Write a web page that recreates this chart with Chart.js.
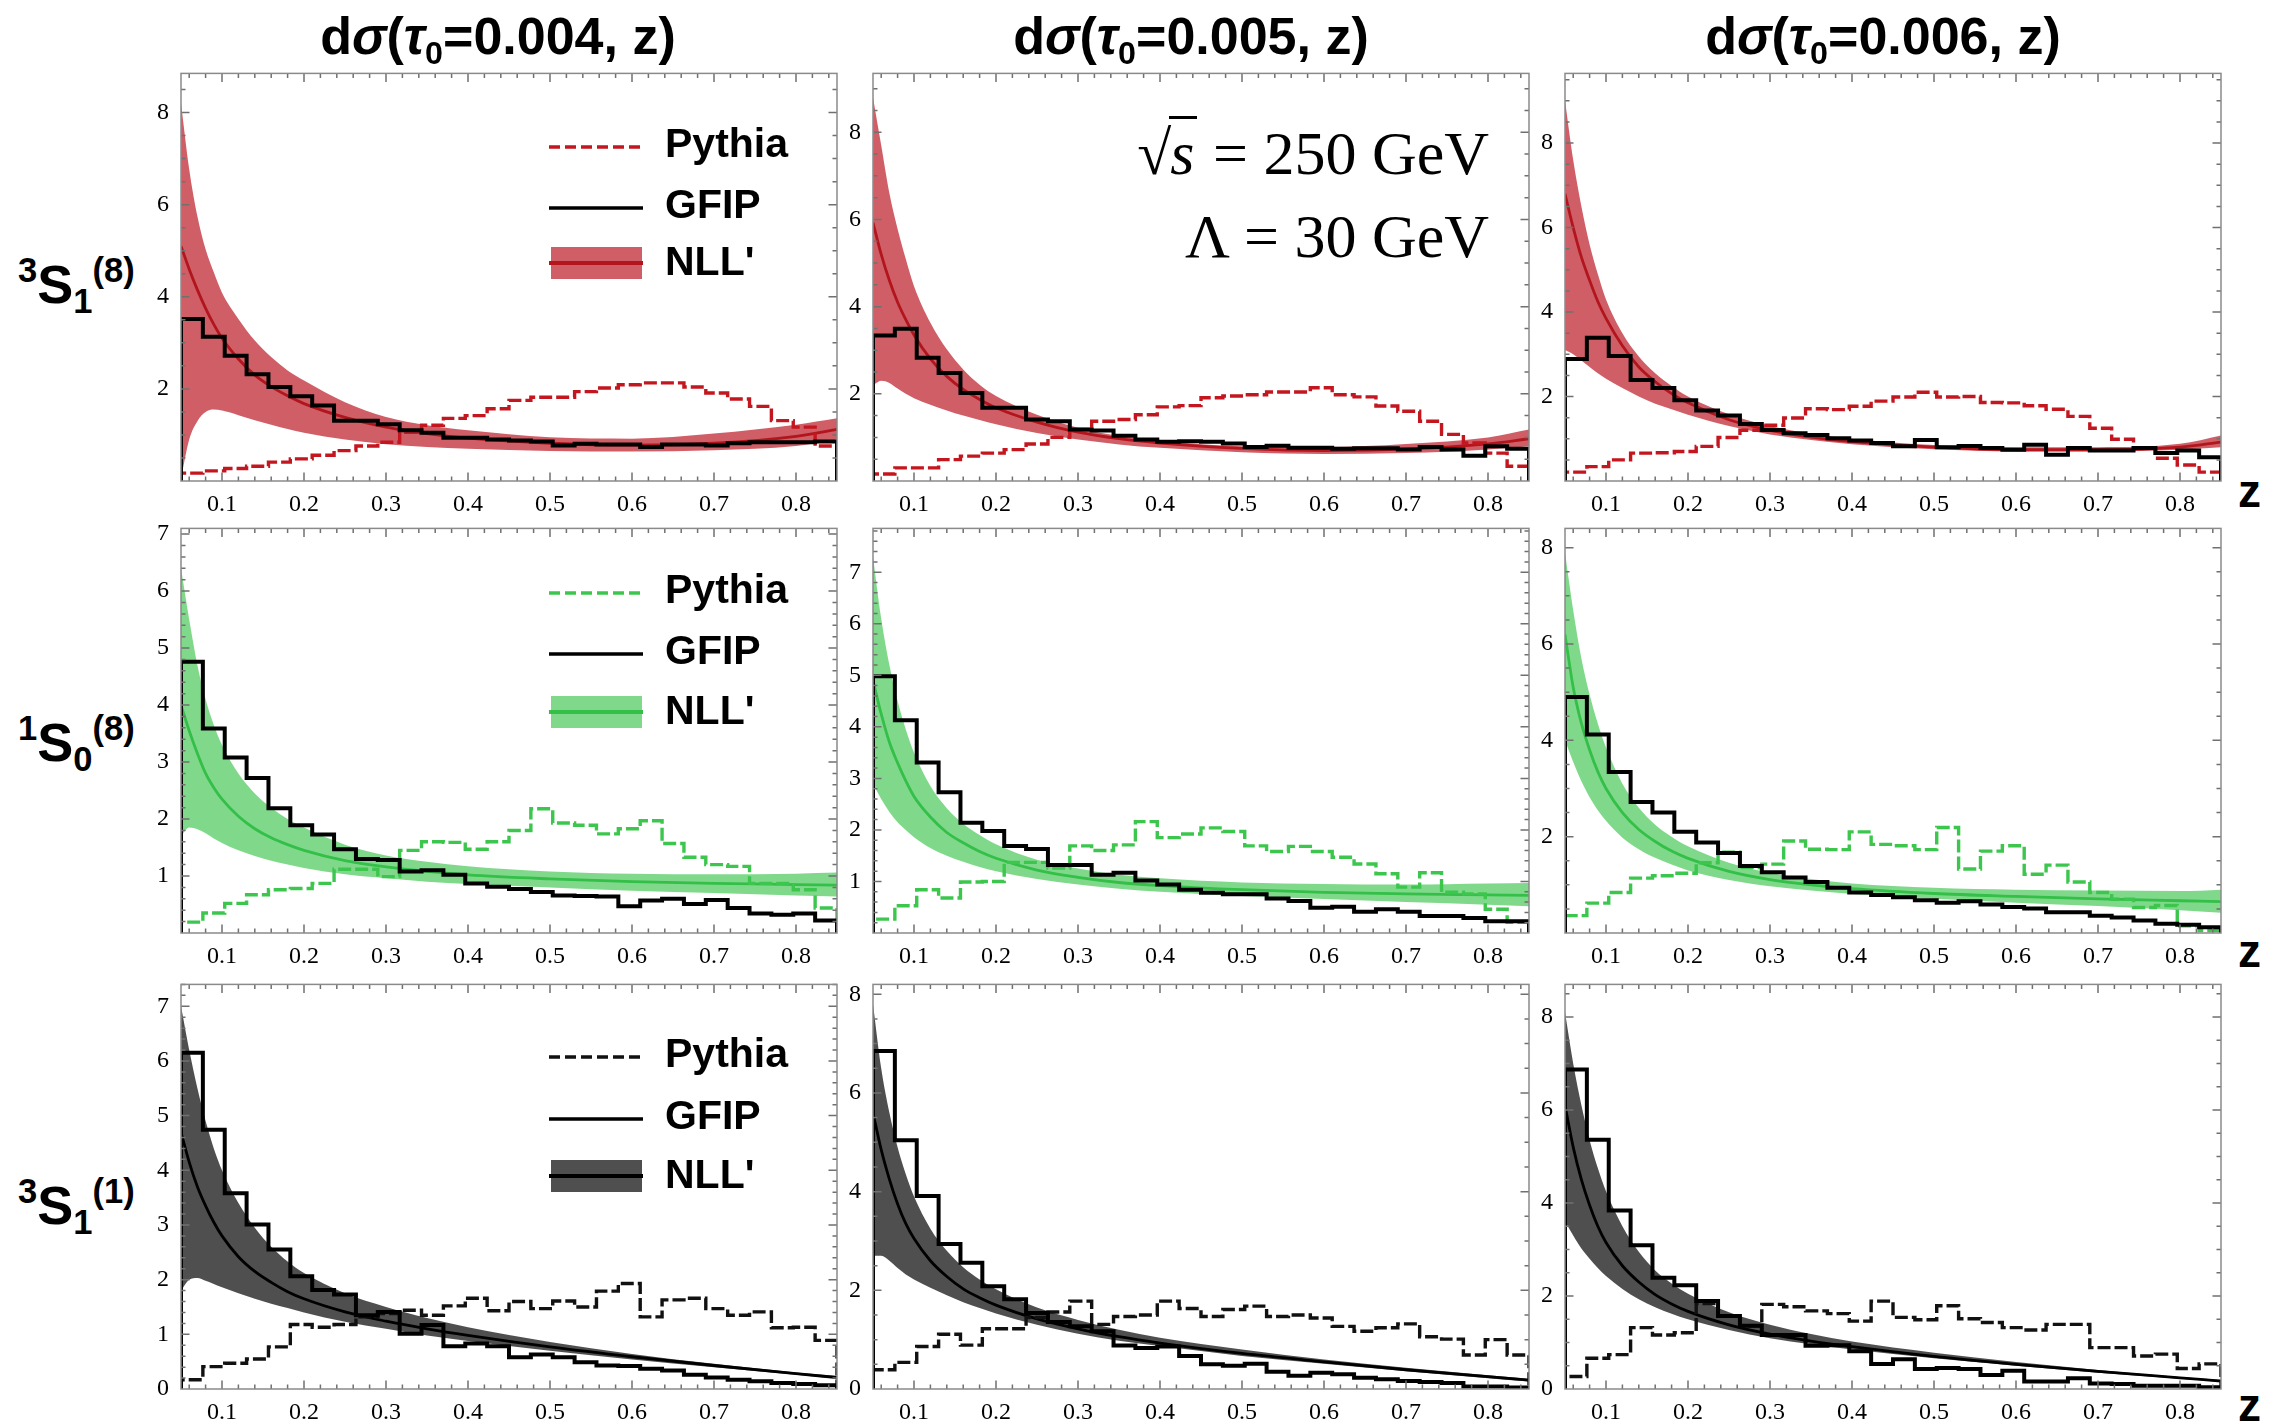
<!DOCTYPE html>
<html>
<head>
<meta charset="utf-8">
<script src="https://cdn.jsdelivr.net/npm/chart.js@4.4.1/dist/chart.umd.min.js"></script>
<style>
    body {
        margin: 0;
        width: 2285px;
        height: 1427px;
        background: #fff;
        position: relative;
        overflow: hidden;
        font-family: "Liberation Sans", Arial, sans-serif;
    }
    canvas { position: absolute; }
    .title {
        position: absolute;
        width: 700px;
        text-align: center;
        font-weight: bold;
        font-size: 52px;
        line-height: 60px;
        white-space: nowrap;
    }
    .title .sb { font-size: 0.62em; position: relative; top: 0.3em; }
    .state {
        position: absolute;
        left: 18px;
        font-weight: bold;
        font-size: 54px;
        line-height: 64px;
        white-space: nowrap;
    }
    .state sup, .state sub { font-size: 0.64em; vertical-align: baseline; position: relative; }
    .state sup { top: -0.62em; }
    .state sub { top: 0.3em; }
    .zlab {
        position: absolute;
        left: 2238px;
        font-weight: bold;
        font-size: 46px;
        line-height: 56px;
    }
    .legtext {
        position: absolute;
        left: 665px;
        font-weight: bold;
        font-size: 41px;
        line-height: 48px;
        white-space: nowrap;
    }
    .leg { position: absolute; left: 549px; }
    .anno {
        position: absolute;
        right: 796px;
        font-family: "Liberation Serif", "Times New Roman", serif;
        font-size: 62px;
        line-height: 70px;
        white-space: nowrap;
    }
    .anno .ov { border-top: 3px solid #000; padding: 0 3px 0 1px; margin-left: -2px; }
</style>
</head>
<body>
<script>
    // binning / sampling of z
    const zMin = 0.05, zMax = 0.85;
    const zCurve = [0.05, 0.06, 0.07, 0.08, 0.09, 0.10, 0.12, 0.14, 0.16, 0.18, 0.20, 0.25, 0.30, 0.35, 0.40, 0.50, 0.60, 0.70, 0.80, 0.85];

    const tauValues = ['0.004', '0.005', '0.006'];
    const stateLabels = [
        '<sup>3</sup>S<sub>1</sub><sup>(8)</sup>',
        '<sup>1</sup>S<sub>0</sub><sup>(8)</sup>',
        '<sup>3</sup>S<sub>1</sub><sup>(1)</sup>'
    ];
    const legendLabels = ['Pythia', 'GFIP', "NLL'"];

    const xTickVals = [0.1, 0.2, 0.3, 0.4, 0.5, 0.6, 0.7, 0.8];
    const yTickVals = [
        [[2, 4, 6, 8], [2, 4, 6, 8], [2, 4, 6, 8]],
        [[1, 2, 3, 4, 5, 6, 7], [1, 2, 3, 4, 5, 6, 7], [2, 4, 6, 8]],
        [[0, 1, 2, 3, 4, 5, 6, 7], [0, 2, 4, 6, 8], [0, 2, 4, 6, 8]]
    ];
    const yMaxVals = [[8.85, 9.35, 9.65], [7.1, 7.85, 8.4], [7.4, 8.2, 8.7]];

    // 3S1(8): one row per tau0
    const gfip3S1oct = [
        [3.52, 3.13, 2.72, 2.32, 2.04, 1.84, 1.64, 1.31, 1.31, 1.23, 1.10, 1.05, 0.94, 0.94, 0.90, 0.88, 0.86, 0.77, 0.81, 0.79, 0.79, 0.74, 0.79, 0.79, 0.77, 0.82, 0.84, 0.84, 0.84, 0.86],
        [3.34, 3.49, 2.83, 2.48, 2.02, 1.68, 1.68, 1.41, 1.37, 1.18, 1.16, 1.04, 0.95, 0.90, 0.91, 0.90, 0.86, 0.78, 0.81, 0.76, 0.76, 0.74, 0.75, 0.75, 0.72, 0.78, 0.72, 0.58, 0.80, 0.74],
        [2.89, 3.39, 2.96, 2.39, 2.20, 1.91, 1.67, 1.55, 1.35, 1.21, 1.13, 1.09, 1.01, 0.96, 0.90, 0.82, 0.97, 0.80, 0.83, 0.78, 0.74, 0.86, 0.62, 0.78, 0.72, 0.72, 0.78, 0.66, 0.72, 0.56]
    ];
    const pythia3S1oct = [
        [0.17, 0.22, 0.27, 0.32, 0.41, 0.48, 0.56, 0.66, 0.76, 0.84, 1.06, 1.21, 1.36, 1.42, 1.57, 1.75, 1.82, 1.82, 1.94, 2.02, 2.09, 2.13, 2.13, 2.04, 1.91, 1.78, 1.62, 1.31, 1.17, 0.76],
        [0.16, 0.30, 0.30, 0.49, 0.57, 0.64, 0.72, 0.85, 1.00, 1.18, 1.37, 1.41, 1.52, 1.70, 1.73, 1.91, 1.95, 1.98, 2.04, 2.04, 2.14, 1.98, 1.93, 1.72, 1.60, 1.37, 1.07, 0.87, 0.64, 0.34],
        [0.21, 0.34, 0.50, 0.66, 0.67, 0.70, 0.82, 1.03, 1.20, 1.32, 1.49, 1.71, 1.69, 1.77, 1.89, 1.99, 2.10, 1.99, 2.00, 1.86, 1.85, 1.78, 1.70, 1.53, 1.25, 0.99, 0.78, 0.54, 0.38, 0.21]
    ];
    const lo3S1oct = [
        [0.05, 0.9, 1.3, 1.5, 1.55, 1.53, 1.43, 1.32, 1.22, 1.13, 1.05, 0.9, 0.8, 0.74, 0.7, 0.65, 0.64, 0.67, 0.76, 0.9],
        [2.2, 2.3, 2.25, 2.12, 2.0, 1.9, 1.75, 1.62, 1.5, 1.4, 1.3, 1.1, 0.95, 0.84, 0.76, 0.66, 0.62, 0.64, 0.72, 0.8],
        [3.1, 3.0, 2.85, 2.7, 2.55, 2.42, 2.2, 2.0, 1.83, 1.7, 1.57, 1.3, 1.1, 0.97, 0.87, 0.75, 0.7, 0.7, 0.74, 0.8]
    ];
    const hi3S1oct = [
        [8.2, 6.77, 5.75, 5.03, 4.53, 4.09, 3.52, 3.05, 2.69, 2.40, 2.18, 1.71, 1.39, 1.21, 1.10, 0.95, 0.92, 1.03, 1.22, 1.36],
        [8.8, 7.7, 6.6, 5.78, 5.09, 4.47, 3.63, 3.02, 2.56, 2.21, 1.95, 1.52, 1.22, 1.03, 0.92, 0.8, 0.78, 0.85, 1.0, 1.18],
        [9.0, 7.6, 6.5, 5.6, 4.9, 4.3, 3.5, 2.95, 2.55, 2.25, 2.0, 1.58, 1.3, 1.12, 1.0, 0.85, 0.8, 0.8, 0.88, 1.08]
    ];
    const mid3S1oct = [
        [5.1, 4.6, 4.15, 3.75, 3.4, 3.1, 2.65, 2.3, 2.05, 1.85, 1.68, 1.38, 1.17, 1.03, 0.93, 0.82, 0.78, 0.82, 0.97, 1.12],
        [5.93, 5.2, 4.6, 4.1, 3.7, 3.35, 2.8, 2.4, 2.1, 1.87, 1.68, 1.35, 1.12, 0.97, 0.87, 0.75, 0.70, 0.73, 0.85, 0.97],
        [6.8, 6.0, 5.3, 4.75, 4.25, 3.85, 3.2, 2.7, 2.35, 2.07, 1.85, 1.45, 1.2, 1.04, 0.93, 0.8, 0.74, 0.74, 0.8, 0.92]
    ];

    // 1S0(8)
    const gfip1S0oct = [
        [4.76, 3.59, 3.08, 2.72, 2.19, 1.89, 1.73, 1.47, 1.30, 1.28, 1.08, 1.10, 1.02, 0.87, 0.81, 0.77, 0.72, 0.66, 0.65, 0.64, 0.47, 0.57, 0.60, 0.51, 0.58, 0.44, 0.34, 0.32, 0.34, 0.22],
        [4.98, 4.13, 3.31, 2.73, 2.14, 1.98, 1.69, 1.63, 1.32, 1.32, 1.13, 1.17, 1.02, 0.94, 0.84, 0.78, 0.75, 0.75, 0.67, 0.62, 0.49, 0.51, 0.41, 0.46, 0.41, 0.33, 0.33, 0.29, 0.23, 0.23],
        [4.90, 4.12, 3.34, 2.72, 2.50, 2.10, 1.88, 1.66, 1.39, 1.26, 1.15, 1.06, 0.94, 0.84, 0.79, 0.74, 0.68, 0.63, 0.66, 0.59, 0.54, 0.51, 0.43, 0.43, 0.36, 0.32, 0.26, 0.19, 0.17, 0.12]
    ];
    const pythia1S0oct = [
        [0.19, 0.35, 0.52, 0.67, 0.76, 0.78, 0.87, 1.12, 1.12, 0.99, 1.45, 1.60, 1.59, 1.47, 1.60, 1.80, 2.18, 1.93, 1.89, 1.74, 1.83, 1.97, 1.57, 1.33, 1.20, 1.17, 0.87, 0.87, 0.76, 0.44],
        [0.27, 0.53, 0.84, 0.68, 0.99, 1.00, 1.37, 1.37, 1.26, 1.69, 1.60, 1.71, 2.16, 1.85, 1.92, 2.04, 1.97, 1.69, 1.58, 1.68, 1.58, 1.47, 1.34, 1.15, 0.89, 1.17, 0.79, 0.76, 0.46, 0.21],
        [0.36, 0.62, 0.84, 1.14, 1.19, 1.24, 1.46, 1.68, 1.36, 1.43, 1.91, 1.74, 1.73, 2.10, 1.84, 1.81, 1.73, 2.19, 1.33, 1.70, 1.81, 1.22, 1.41, 1.06, 0.84, 0.70, 0.53, 0.57, 0.15, 0.05]
    ];
    const lo1S0oct = [
        [1.7, 1.85, 1.82, 1.75, 1.66, 1.58, 1.45, 1.35, 1.27, 1.2, 1.14, 1.03, 0.96, 0.9, 0.86, 0.8, 0.74, 0.7, 0.66, 0.64],
        [2.9, 2.6, 2.35, 2.15, 2.0, 1.86, 1.65, 1.5, 1.38, 1.28, 1.2, 1.05, 0.94, 0.86, 0.8, 0.72, 0.66, 0.6, 0.55, 0.52],
        [4.0, 3.55, 3.15, 2.82, 2.55, 2.33, 1.98, 1.74, 1.56, 1.42, 1.3, 1.1, 0.97, 0.88, 0.81, 0.71, 0.63, 0.56, 0.47, 0.42]
    ];
    const hi1S0oct = [
        [6.4, 5.5, 4.7, 4.1, 3.65, 3.3, 2.8, 2.45, 2.2, 2.0, 1.85, 1.55, 1.36, 1.25, 1.17, 1.08, 1.04, 1.03, 1.04, 1.06],
        [7.3, 6.1, 5.2, 4.5, 3.95, 3.5, 2.85, 2.42, 2.12, 1.9, 1.72, 1.42, 1.25, 1.13, 1.06, 0.98, 0.95, 0.94, 0.96, 0.97],
        [7.9, 6.7, 5.7, 4.95, 4.35, 3.85, 3.1, 2.6, 2.25, 2.0, 1.8, 1.46, 1.25, 1.12, 1.03, 0.94, 0.9, 0.88, 0.87, 0.9]
    ];
    const mid1S0oct = [
        [4.0, 3.55, 3.15, 2.8, 2.55, 2.35, 2.05, 1.83, 1.67, 1.55, 1.45, 1.27, 1.16, 1.08, 1.02, 0.95, 0.9, 0.87, 0.85, 0.84],
        [4.9, 4.25, 3.7, 3.3, 2.95, 2.65, 2.25, 1.95, 1.75, 1.58, 1.45, 1.22, 1.08, 0.98, 0.92, 0.84, 0.79, 0.76, 0.74, 0.73],
        [6.2, 5.1, 4.35, 3.8, 3.35, 3.0, 2.5, 2.15, 1.9, 1.7, 1.55, 1.28, 1.11, 1.0, 0.92, 0.82, 0.76, 0.71, 0.67, 0.65]
    ];

    // 3S1(1)
    const gfip3S1sing = [
        [6.15, 4.74, 3.58, 3.01, 2.55, 2.06, 1.81, 1.73, 1.35, 1.41, 1.01, 1.17, 0.78, 0.83, 0.78, 0.58, 0.63, 0.58, 0.49, 0.43, 0.42, 0.37, 0.34, 0.26, 0.21, 0.17, 0.14, 0.11, 0.09, 0.07],
        [6.85, 5.04, 3.91, 2.94, 2.56, 2.08, 1.82, 1.54, 1.36, 1.27, 1.17, 0.88, 0.83, 0.86, 0.67, 0.50, 0.47, 0.51, 0.35, 0.27, 0.33, 0.30, 0.23, 0.20, 0.16, 0.14, 0.12, 0.05, 0.05, 0.03],
        [6.87, 5.36, 3.84, 3.09, 2.39, 2.23, 1.89, 1.57, 1.36, 1.16, 1.16, 0.93, 0.94, 0.81, 0.54, 0.64, 0.43, 0.45, 0.43, 0.30, 0.39, 0.16, 0.16, 0.23, 0.12, 0.11, 0.07, 0.07, 0.07, 0.04]
    ];
    const pythia3S1sing = [
        [0.17, 0.41, 0.47, 0.55, 0.77, 1.18, 1.13, 1.18, 1.32, 1.38, 1.44, 1.35, 1.52, 1.66, 1.43, 1.60, 1.47, 1.61, 1.50, 1.79, 1.93, 1.32, 1.63, 1.66, 1.47, 1.35, 1.41, 1.12, 1.13, 0.89],
        [0.39, 0.54, 0.86, 1.11, 0.89, 1.22, 1.22, 1.45, 1.56, 1.78, 1.31, 1.47, 1.50, 1.78, 1.63, 1.47, 1.61, 1.68, 1.47, 1.50, 1.44, 1.27, 1.17, 1.24, 1.32, 1.06, 1.01, 0.69, 1.00, 0.69],
        [0.27, 0.66, 0.74, 1.32, 1.16, 1.21, 1.84, 1.57, 1.36, 1.82, 1.77, 1.68, 1.62, 1.46, 1.89, 1.54, 1.49, 1.79, 1.51, 1.43, 1.32, 1.27, 1.39, 1.39, 0.89, 0.89, 0.71, 0.75, 0.44, 0.54]
    ];
    const lo3S1sing = [
        [1.8, 2.0, 2.03, 1.98, 1.92, 1.86, 1.75, 1.65, 1.56, 1.48, 1.4, 1.23, 1.1, 0.98, 0.88, 0.7, 0.54, 0.4, 0.26, 0.19],
        [2.7, 2.7, 2.6, 2.45, 2.32, 2.22, 2.05, 1.9, 1.76, 1.64, 1.53, 1.3, 1.12, 0.98, 0.87, 0.67, 0.51, 0.36, 0.22, 0.15],
        [3.6, 3.3, 3.02, 2.8, 2.6, 2.43, 2.15, 1.93, 1.76, 1.62, 1.5, 1.27, 1.09, 0.96, 0.85, 0.66, 0.5, 0.35, 0.22, 0.15]
    ];
    const hi3S1sing = [
        [7.0, 6.2, 5.5, 4.9, 4.4, 4.0, 3.4, 2.95, 2.6, 2.33, 2.12, 1.75, 1.5, 1.3, 1.13, 0.86, 0.64, 0.46, 0.3, 0.24],
        [7.8, 6.5, 5.6, 4.9, 4.35, 3.9, 3.25, 2.8, 2.47, 2.22, 2.02, 1.65, 1.4, 1.2, 1.04, 0.8, 0.6, 0.43, 0.28, 0.21],
        [8.1, 7.0, 6.1, 5.35, 4.75, 4.25, 3.5, 2.95, 2.55, 2.27, 2.05, 1.65, 1.38, 1.18, 1.02, 0.78, 0.58, 0.41, 0.26, 0.2]
    ];
    const mid3S1sing = [
        [4.7, 4.15, 3.7, 3.35, 3.05, 2.8, 2.42, 2.15, 1.95, 1.78, 1.65, 1.41, 1.24, 1.1, 0.98, 0.77, 0.59, 0.43, 0.28, 0.21],
        [5.6, 4.85, 4.25, 3.75, 3.35, 3.05, 2.6, 2.28, 2.03, 1.85, 1.7, 1.42, 1.22, 1.06, 0.93, 0.72, 0.55, 0.39, 0.25, 0.18],
        [6.1, 5.2, 4.5, 3.95, 3.5, 3.15, 2.65, 2.3, 2.03, 1.83, 1.67, 1.38, 1.18, 1.03, 0.91, 0.7, 0.53, 0.38, 0.24, 0.17]
    ];

    const gfipSets = [gfip3S1oct, gfip1S0oct, gfip3S1sing];
    const pythiaSets = [pythia3S1oct, pythia1S0oct, pythia3S1sing];
    const loSets = [lo3S1oct, lo1S0oct, lo3S1sing];
    const hiSets = [hi3S1oct, hi1S0oct, hi3S1sing];
    const midSets = [mid3S1oct, mid1S0oct, mid3S1sing];

    // look
    const colours = [
        { band: 'rgba(203,82,90,0.93)', line: '#b3151d', pythia: '#c3161f' },
        { band: 'rgba(118,214,130,0.93)', line: '#33bf48', pythia: '#3cc64d' },
        { band: 'rgba(72,72,72,0.96)', line: '#000', pythia: '#111' }
    ];
    const yMajorStep = [[2, 2, 2], [1, 1, 2], [1, 2, 2]];
    const yMinorStep = [[0.5, 0.5, 0.5], [0.2, 0.2, 0.5], [0.2, 0.5, 0.5]];

    const colLeft = [181, 873, 1565];
    const plotW = 656;
    const rowTop = [73, 528, 984];
    const rowH = [408, 405, 405];

    function histPoints(vals) {
        const w = (zMax - zMin) / vals.length;
        const pts = [{ x: zMin, y: 0 }];
        vals.forEach((v, i) => pts.push({ x: zMin + i * w, y: v }));
        pts.push({ x: zMax, y: vals[vals.length - 1] });
        pts.push({ x: zMax, y: 0 });
        return pts;
    }

    function curvePoints(vals) {
        return zCurve.map((z, i) => ({ x: z, y: vals[i] }));
    }

    // Mathematica-style frame with inward ticks on all four sides
    const frameTicks = {
        id: 'frameTicks',
        afterDatasetsDraw(chart, args, opts) {
            const { ctx, chartArea: a, scales: { x, y } } = chart;
            ctx.save();
            ctx.strokeStyle = '#707070';
            ctx.lineWidth = 1.5;
            ctx.beginPath();
            for (let k = 3; k <= 42; k++) {
                const px = x.getPixelForValue(k * 0.02);
                const len = (k % 5 === 0) ? 8.5 : 4.5;
                ctx.moveTo(px, a.bottom); ctx.lineTo(px, a.bottom - len);
                ctx.moveTo(px, a.top); ctx.lineTo(px, a.top + len);
            }
            const n = Math.floor(opts.yMax / opts.minor + 1e-6);
            const per = Math.round(opts.major / opts.minor);
            for (let k = 1; k <= n; k++) {
                const py = y.getPixelForValue(k * opts.minor);
                const len = (k % per === 0) ? 8.5 : 4.5;
                ctx.moveTo(a.left, py); ctx.lineTo(a.left + len, py);
                ctx.moveTo(a.right, py); ctx.lineTo(a.right - len, py);
            }
            ctx.stroke();
            ctx.strokeStyle = '#8a8a8a';
            ctx.strokeRect(a.left, a.top, a.width, a.height);
            ctx.restore();
        }
    };

    function config(r, c) {
        const col = colours[r];
        const yMax = yMaxVals[r][c];
        return {
            type: 'line',
            data: {
                datasets: [
                    {   // band lower edge
                        data: curvePoints(loSets[r][c]),
                        borderColor: 'rgba(0,0,0,0)', borderWidth: 1, pointRadius: 0,
                        cubicInterpolationMode: 'monotone', fill: false, order: 4
                    },
                    {   // band upper edge, filled down to the lower one
                        data: curvePoints(hiSets[r][c]),
                        borderColor: 'rgba(0,0,0,0)', borderWidth: 1, pointRadius: 0,
                        cubicInterpolationMode: 'monotone', fill: '-1', backgroundColor: col.band, order: 3
                    },
                    {   // NLL' central value
                        data: curvePoints(midSets[r][c]),
                        borderColor: col.line, borderWidth: 2.8, pointRadius: 0,
                        cubicInterpolationMode: 'monotone', fill: false, order: 2
                    },
                    {   // Pythia
                        data: histPoints(pythiaSets[r][c]),
                        borderColor: col.pythia, borderWidth: 3.4, borderDash: [13, 4], pointRadius: 0,
                        stepped: true, fill: false, order: 1
                    },
                    {   // GFIP
                        data: histPoints(gfipSets[r][c]),
                        borderColor: '#000', borderWidth: 4, pointRadius: 0,
                        stepped: true, fill: false, order: 0
                    }
                ]
            },
            options: {
                responsive: false,
                animation: false,
                events: [],
                layout: { padding: { top: 14, right: 14, left: 0, bottom: 0 } },
                plugins: {
                    legend: { display: false },
                    tooltip: { enabled: false },
                    frameTicks: { yMax: yMax, major: yMajorStep[r][c], minor: yMinorStep[r][c] }
                },
                scales: {
                    x: {
                        type: 'linear', min: zMin, max: zMax,
                        grid: { display: false }, border: { display: false },
                        afterBuildTicks: s => { s.ticks = xTickVals.map(v => ({ value: v })); },
                        afterFit: s => { s.height = 44; },
                        ticks: {
                            font: { family: 'Liberation Serif', size: 24 }, color: '#000',
                            padding: 1, maxRotation: 0, autoSkip: false,
                            callback: v => v.toFixed(1)
                        }
                    },
                    y: {
                        type: 'linear', min: 0, max: yMax,
                        grid: { display: false }, border: { display: false },
                        afterBuildTicks: s => { s.ticks = yTickVals[r][c].map(v => ({ value: v })); },
                        afterFit: s => { s.width = 40; },
                        ticks: {
                            font: { family: 'Liberation Serif', size: 24 }, color: '#000',
                            padding: 4, autoSkip: false,
                            callback: v => String(v)
                        }
                    }
                }
            },
            plugins: [frameTicks]
        };
    }

    function buildPanel(r, c) {
        // first pass: measure the margins Chart.js puts round the plot area
        const probe = document.createElement('canvas');
        probe.width = plotW + 80; probe.height = rowH[r] + 80;
        document.body.appendChild(probe);
        const tmp = new Chart(probe, config(r, c));
        const a = tmp.chartArea;
        const padL = a.left, padT = a.top;
        const padR = probe.width - a.right, padB = probe.height - a.bottom;
        tmp.destroy();
        probe.remove();

        const cv = document.createElement('canvas');
        cv.width = plotW + padL + padR;
        cv.height = rowH[r] + padT + padB;
        cv.style.left = (colLeft[c] - padL) + 'px';
        cv.style.top = (rowTop[r] - padT) + 'px';
        document.body.appendChild(cv);
        new Chart(cv, config(r, c));
    }

    function addDiv(cls, html, style) {
        const d = document.createElement('div');
        d.className = cls;
        d.innerHTML = html;
        Object.assign(d.style, style);
        document.body.appendChild(d);
        return d;
    }

    for (let r = 0; r < 3; r++)
        for (let c = 0; c < 3; c++)
            buildPanel(r, c);

    // column titles
    const titleCentre = [498, 1191, 1883];
    tauValues.forEach((t, c) => {
        addDiv('title', 'd<i>σ</i>(<i>τ</i><span class="sb">0</span>=' + t + ', z)',
            { left: (titleCentre[c] - 350) + 'px', top: '6px' });
    });

    // row labels and z labels
    const stateTop = [252, 710, 1173];
    stateLabels.forEach((s, r) => addDiv('state', s, { top: stateTop[r] + 'px' }));
    [463, 923, 1377].forEach(t => addDiv('zlab', 'z', { top: t + 'px' }));

    // legends in the first column
    const legY = [[145, 206, 263], [591, 652, 712], [1055, 1117, 1176]];
    for (let r = 0; r < 3; r++) {
        const col = colours[r];
        const glyphs = [
            `<svg width="94" height="12"><line x1="0" y1="6" x2="94" y2="6" stroke="${col.pythia}" stroke-width="3.4" stroke-dasharray="11 5"/></svg>`,
            `<svg width="94" height="12"><line x1="0" y1="6" x2="94" y2="6" stroke="#000" stroke-width="3.4"/></svg>`,
            `<svg width="94" height="32"><rect x="2" y="0" width="91" height="32" fill="${col.band}"/><line x1="0" y1="16" x2="94" y2="16" stroke="${col.line}" stroke-width="4"/></svg>`
        ];
        legendLabels.forEach((lab, k) => {
            const h = k === 2 ? 32 : 12;
            addDiv('leg', glyphs[k], { top: (legY[r][k] - h / 2) + 'px', height: h + 'px' });
            addDiv('legtext', lab, { top: (legY[r][k] - 26) + 'px' });
        });
    }

    // collision parameters
    addDiv('anno', '√<span class="ov"><i>s</i></span> = 250 GeV', { top: '118px' });
    addDiv('anno', 'Λ = 30 GeV', { top: '201px' });
</script>
</body>
</html>
